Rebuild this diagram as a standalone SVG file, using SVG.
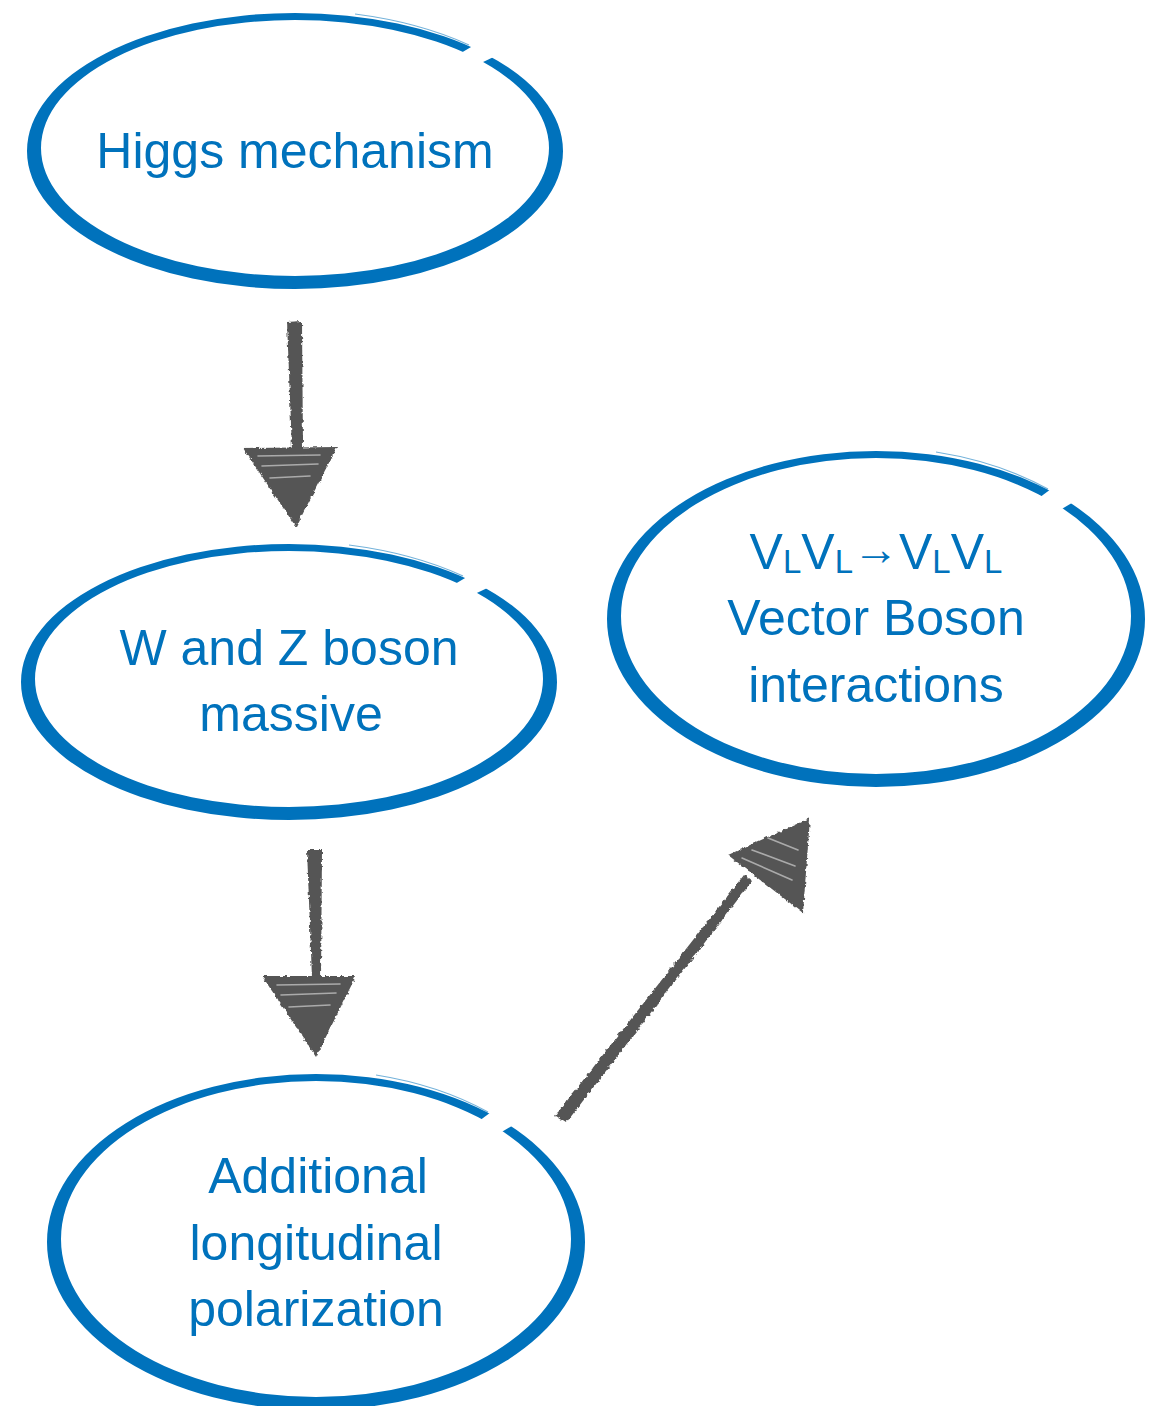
<svg xmlns="http://www.w3.org/2000/svg" width="1160" height="1406" viewBox="0 0 1160 1406">
<style>
.ring{fill:#0072BC;fill-rule:evenodd}
.hair{fill:none;stroke:#0072BC;stroke-width:1.2;opacity:0.55}
.lbl{font-family:"Liberation Sans",Arial,sans-serif;font-size:50px;fill:#0072BC;text-anchor:middle}
.sub{font-size:33px}
.arw{font-size:46px}
.arr{fill:#555555;filter:url(#rough)}
.streak{stroke:#ffffff;stroke-width:1.6;opacity:0.5;fill:none;stroke-linecap:round}
</style>
<defs>
<filter id="rough" x="-10%" y="-10%" width="120%" height="120%">
<feTurbulence type="fractalNoise" baseFrequency="0.25" numOctaves="2" seed="3" result="n"/>
<feDisplacementMap in="SourceGraphic" in2="n" scale="4" xChannelSelector="R" yChannelSelector="G"/>
</filter>
<mask id="gapA" maskUnits="userSpaceOnUse" x="-400" y="-300" width="800" height="600">
<rect x="-400" y="-300" width="800" height="600" fill="#fff"/>
<polygon points="0,0 352,-208 395,-187" fill="#000"/>
</mask>
<mask id="gapB" maskUnits="userSpaceOnUse" x="-400" y="-300" width="800" height="600">
<rect x="-400" y="-300" width="800" height="600" fill="#fff"/>
<polygon points="0,0 346,-257 390,-231" fill="#000"/>
</mask>
</defs>
<rect width="1160" height="1406" fill="#ffffff"/>

<g id="connectors">
<g id="arrow1">
<path class="arr" d="M287,322 L302,321 L303,450 L292,450 Z"/>
<path class="arr" d="M243,448 L337,447 L296,527 Z"/>
<path class="streak" d="M258,456 L320,455 M262,466 L318,464 M270,478 L310,476"/>
</g>
<g id="arrow2">
<path class="arr" d="M307,850 L322,850 L321,978 L312,978 Z"/>
<path class="arr" d="M262,976 L356,976 L316,1057 Z"/>
<path class="streak" d="M277,985 L340,984 M281,995 L336,993 M289,1007 L330,1005"/>
</g>
<g id="arrow3">
<path class="arr" d="M555,1116 L566,1123 L752,881 L744,875 Z"/>
<path class="arr" d="M728,855 L810,818 L803,913 Z"/>
<path class="streak" d="M742,858 L792,880 M752,850 L795,866 M768,838 L798,850"/>
</g>
</g>

<g id="node-higgs" transform="translate(295,151)">
<g mask="url(#gapA)">
<path class="ring" d="M-268,0 A268,138 0 1 0 268,0 A268,138 0 1 0 -268,0 Z M-254,-3 A254,128 0 1 0 254,-3 A254,128 0 1 0 -254,-3 Z"/>
</g>
<path class="hair" d="M60,-137 A269,139 0 0 1 174,-106"/>
<path class="hair" d="M80,-129 A256,130 0 0 1 168,-101"/>
<text class="lbl" x="0" y="17">Higgs mechanism</text>
</g>

<g id="node-wz" transform="translate(289,682)">
<g mask="url(#gapA)">
<path class="ring" d="M-268,0 A268,138 0 1 0 268,0 A268,138 0 1 0 -268,0 Z M-254,-3 A254,128 0 1 0 254,-3 A254,128 0 1 0 -254,-3 Z"/>
</g>
<path class="hair" d="M60,-137 A269,139 0 0 1 174,-106"/>
<path class="hair" d="M80,-129 A256,130 0 0 1 168,-101"/>
<text class="lbl" x="0" y="-17">W and Z boson</text>
<text class="lbl" x="2" y="49">massive</text>
</g>

<g id="node-vbs" transform="translate(876,619)">
<g mask="url(#gapB)">
<path class="ring" d="M-269,0 A269,168 0 1 0 269,0 A269,168 0 1 0 -269,0 Z M-255,-3 A255,158 0 1 0 255,-3 A255,158 0 1 0 -255,-3 Z"/>
</g>
<path class="hair" d="M60,-167 A270,169 0 0 1 172,-130"/>
<path class="hair" d="M80,-158 A257,160 0 0 1 166,-124"/>
<text class="lbl" x="0" y="-50">V<tspan class="sub" dy="4">L</tspan><tspan dy="-4">V</tspan><tspan class="sub" dy="4">L</tspan><tspan class="arw" dy="-8">→</tspan><tspan dy="4">V</tspan><tspan class="sub" dy="4">L</tspan><tspan dy="-4">V</tspan><tspan class="sub" dy="4">L</tspan></text>
<text class="lbl" x="0" y="16">Vector Boson</text>
<text class="lbl" x="0" y="83">interactions</text>
</g>

<g id="node-pol" transform="translate(316,1242)">
<g mask="url(#gapB)">
<path class="ring" d="M-269,0 A269,168 0 1 0 269,0 A269,168 0 1 0 -269,0 Z M-255,-3 A255,158 0 1 0 255,-3 A255,158 0 1 0 -255,-3 Z"/>
</g>
<path class="hair" d="M60,-167 A270,169 0 0 1 172,-130"/>
<path class="hair" d="M80,-158 A257,160 0 0 1 166,-124"/>
<text class="lbl" x="2" y="-49">Additional</text>
<text class="lbl" x="0" y="18">longitudinal</text>
<text class="lbl" x="0" y="84">polarization</text>
</g>
</svg>
